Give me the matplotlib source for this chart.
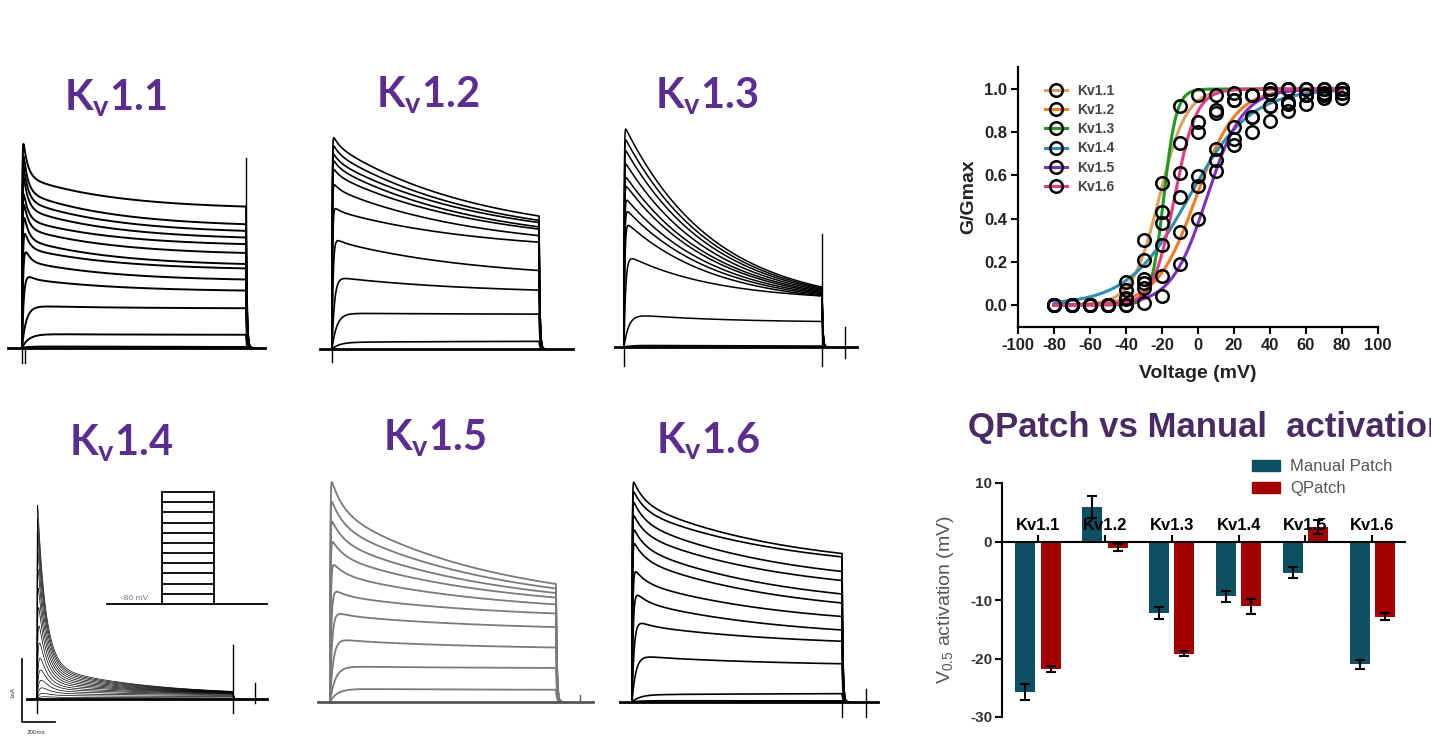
import numpy as np
import matplotlib.pyplot as plt
from matplotlib.lines import Line2D
from matplotlib.patches import Patch

plt.rcParams['font.family'] = ['Liberation Sans', 'DejaVu Sans']
plt.rcParams['axes.unicode_minus'] = False

W, H = 1431, 740
PURPLE = '#5c2d91'

# ---------------- current traces (normalised to the largest peak) ----------------
kv11_peak = [1.0, 0.95, 0.90, 0.85, 0.77, 0.73, 0.68, 0.61, 0.535, 0.41, 0.21, 0.07, 0.012]
kv11_end = [0.64, 0.56, 0.53, 0.50, 0.47, 0.43, 0.38, 0.36, 0.31, 0.26, 0.18, 0.06, 0.005]

kv12_peak = [0.99, 0.95, 0.91, 0.88, 0.84, 0.77, 0.66, 0.52, 0.34, 0.165, 0.03]
kv12_end = [0.61, 0.59, 0.58, 0.56, 0.55, 0.52, 0.49, 0.36, 0.27, 0.16, 0.035]

kv13_peak = [1.0, 0.95, 0.90, 0.84, 0.78, 0.74, 0.68, 0.63, 0.57, 0.42, 0.15, 0.008]
kv13_end = [0.27, 0.265, 0.26, 0.255, 0.25, 0.245, 0.24, 0.235, 0.23, 0.23, 0.115, 0.005]

kv14_peak = [1.0, 0.93, 0.86, 0.78, 0.70, 0.62, 0.54, 0.46, 0.38, 0.30, 0.23, 0.16, 0.10, 0.05, 0.02]
kv14_end = [0.036, 0.035, 0.034, 0.033, 0.032, 0.031, 0.030, 0.029, 0.028, 0.026, 0.024,
            0.021, 0.017, 0.012, 0.006]

kv15_peak = [1.0, 0.91, 0.82, 0.73, 0.63, 0.51, 0.41, 0.29, 0.16, 0.06]
kv15_end = [0.52, 0.50, 0.48, 0.46, 0.43, 0.39, 0.33, 0.24, 0.15, 0.054]

kv16_peak = [1.0, 0.955, 0.91, 0.85, 0.79, 0.73, 0.61, 0.51, 0.38, 0.22, 0.03, 0.006]
kv16_end = [0.66, 0.645, 0.58, 0.54, 0.48, 0.44, 0.38, 0.32, 0.27, 0.17, 0.037, 0.005]

# inactivation kinetics per channel: (fast fraction, tau fast, tau slow) in pulse units
kv_shape = {
    '1.1': (0.6, 0.02, 0.4),
    '1.2': (0.1, 0.03, 0.7),
    '1.3': (0.0, 0.03, 0.45),
    '1.4': (0.85, 0.04, 0.5),
    '1.5': (0.25, 0.05, 0.7),
    '1.6': (0.25, 0.05, 0.7),
}
# activation time constant of the largest trace (pulse units)
kv_act = {'1.1': 0.0015, '1.2': 0.0015, '1.3': 0.0015, '1.4': 0.0008, '1.5': 0.0015, '1.6': 0.0015}

# voltage protocol steps (mV)
hold_mv = -80
step_mv = [-70, -60, -50, -40, -30, -20, -10, 0, 10, 20, 30]

# ---------------- G/Gmax activation curves ----------------
volts = [-80, -70, -60, -50, -40, -30, -20, -10, 0, 10, 20, 30, 40, 50, 60, 70, 80]
channels = ['Kv1.1', 'Kv1.2', 'Kv1.3', 'Kv1.4', 'Kv1.5', 'Kv1.6']
g_kv11 = [0, 0, 0, 0, 0.07, 0.30, 0.565, 0.75, 0.845, 0.89, 0.95, 0.97, 0.98, 1.0, 1.0, 1.0, 1.0]
g_kv12 = [0, 0, 0, 0, 0.03, 0.10, 0.134, 0.337, 0.595, 0.72, 0.825, 0.87, 0.92, 0.94, 0.97, 0.97, 0.98]
g_kv13 = [0, 0, 0, 0, 0.0, 0.08, 0.43, 0.92, 0.97, 0.97, 0.98, 0.97, 1.0, 1.0, 1.0, 1.0, 1.0]
g_kv14 = [0, 0, 0, 0, 0.106, 0.21, 0.38, 0.50, 0.55, 0.67, 0.74, 0.80, 0.85, 0.90, 0.93, 0.96, 0.96]
g_kv15 = [0, 0, 0, 0, 0.0, 0.01, 0.04, 0.19, 0.40, 0.62, 0.77, 0.87, 0.92, 0.93, 0.97, 0.97, 0.98]
g_kv16 = [0, 0, 0, 0, 0.034, 0.12, 0.28, 0.61, 0.80, 0.905, 0.95, 0.97, 0.98, 1.0, 0.97, 0.98, 1.0]
fit_vhalf = [-21.5, -1.0, -19.0, -5.0, 5.0, -13.0]
fit_slope = [7.5, 11.0, 3.5, 17.0, 10.0, 6.0]
fit_colors = ['#d9a25f', '#f47c20', '#1e9a1e', '#2a8fb0', '#7f2fbf', '#e83a84']

# ---------------- V0.5 comparison ----------------
bar_groups = ['Kv1.1', 'Kv1.2', 'Kv1.3', 'Kv1.4', 'Kv1.5', 'Kv1.6']
manual_v05 = [-25.7, 5.9, -12.2, -9.4, -5.3, -21.0]
manual_err = [1.4, 1.8, 1.0, 1.0, 1.0, 0.8]
qpatch_v05 = [-21.8, -1.1, -19.2, -11.1, 2.4, -12.9]
qpatch_err = [0.5, 0.6, 0.4, 1.3, 1.2, 0.6]


fig = plt.figure(figsize=(W / 100, H / 100), dpi=100)


def px_axes(x0, y0, x1, y1):
    # box in pixels, origin top-left
    return fig.add_axes([x0 / W, 1 - y1 / H, (x1 - x0) / W, (y1 - y0) / H])


def draw_traces(ax, peaks, ends, shape, act, color, lw):
    f, tf, ts = shape
    t = np.linspace(0, 1, 3000)
    raw = f * np.exp(-t / tf) + (1 - f) * np.exp(-t / ts)
    d = (raw - raw[-1]) / (raw[0] - raw[-1])
    tail_t = np.linspace(1, 1.03, 60)
    for p, e in zip(peaks, ends):
        # small steps open more slowly
        tau_a = act * (1 + 25 * (1 - p) ** 3)
        m = 1 - np.exp(-t / tau_a)
        cur = m * (e + (p - e) * d)
        tail = cur[-1] * np.exp(-(tail_t - 1) / 0.004)
        ax.plot(np.r_[t, tail_t], np.r_[cur, tail], color=color, lw=lw,
                clip_on=False, solid_joinstyle='round')


# name, peaks, ends, color, lw, pixel box (pulse start, pulse end, baseline, top),
# baseline span, extra vertical marks, title anchor
panels = [
    ('1.1', kv11_peak, kv11_end, 'black', 1.4, (22, 246, 348, 127),
     (-0.0625, 1.085), [(0, -0.07, 0), (0.015, -0.07, 0), (1.0, 0, 0.86)], (115, 110)),
    ('1.2', kv12_peak, kv12_end, 'black', 1.2, (332, 539, 349, 131),
     (-0.058, 1.164), [(0, -0.06, 0)], (428, 107)),
    ('1.3', kv13_peak, kv13_end, 'black', 1.1, (624, 822, 347, 125),
     (-0.045, 1.177), [(0, -0.085, 0), (1.0, -0.085, 0.51), (1.116, -0.05, 0.09)], (707, 108)),
    ('1.4', kv14_peak, kv14_end, 'black', 0.5, (37, 233, 699, 488),
     (-0.051, 1.173), [(0, -0.066, 0.03), (1.0, -0.066, 0.256), (1.112, -0.02, 0.075)], (121, 455)),
    ('1.5', kv15_peak, kv15_end, '#7a7a7a', 1.3, (330, 556, 702, 475),
     (-0.053, 1.164), [(1.106, 0, 0.03)], (435, 450)),
    ('1.6', kv16_peak, kv16_end, 'black', 1.2, (632, 842, 702, 477),
     (-0.057, 1.171), [(1.0, -0.067, 0), (1.114, -0.067, 0.06)], (708, 453)),
]

for name, peaks, ends, color, lw, (xs, xe, yb, yt), span, marks, (tx, ty) in panels:
    ax = px_axes(xs, yt, xe, yb)
    ax.set_xlim(0, 1)
    ax.set_ylim(0, 1)
    ax.axis('off')
    draw_traces(ax, peaks, ends, kv_shape[name], kv_act[name], color, lw)
    base_c = '#555555' if color != 'black' else 'black'
    ax.plot(span, [0, 0], color=base_c, lw=2.0, clip_on=False)
    for (mx, m0, m1) in marks:
        ax.plot([mx, mx], [m0, m1], color=base_c, lw=1.0, clip_on=False)
    fig.text(tx / W, 1 - ty / H, r'K$_\mathregular{v}$' + name, family='Lato',
             weight='bold', fontsize=30, color=PURPLE, ha='center', va='baseline')

# voltage protocol inset for Kv1.4
pax = px_axes(107, 492, 267, 604)
pax.set_xlim(0, 1)
pax.set_ylim(hold_mv, step_mv[-1])
pax.axis('off')
on, off = 0.344, 0.669
pax.plot([0, 1], [hold_mv, hold_mv], color='black', lw=1.3, clip_on=False)
for v in step_mv:
    pax.plot([on, off], [v, v], color='black', lw=1.3, clip_on=False)
for x in (on, off):
    pax.plot([x, x], [hold_mv, step_mv[-1]], color='black', lw=1.3, clip_on=False)
pax.text(0.17, hold_mv + 1.5, '-80 mV', fontsize=6, color='#7a6fa0', ha='center', va='bottom')

# scale bar for Kv1.4
sax = px_axes(0, 0, W, H)
sax.set_xlim(0, W)
sax.set_ylim(H, 0)
sax.axis('off')
sax.plot([22, 22, 55], [659, 722, 722], color='black', lw=1.2)
sax.text(13, 692, '1nA', fontsize=4.5, rotation=90, ha='center', va='center', color='#333333')
sax.text(36, 732, '200ms', fontsize=4.5, ha='center', va='center', color='#333333')

# ---------------- G/Gmax plot ----------------
gax = px_axes(1018, 67.4, 1378, 326.6)
g_sets = [g_kv11, g_kv12, g_kv13, g_kv14, g_kv15, g_kv16]
vv = np.linspace(-80, 80, 400)
handles = []
for g, vh, k, c in zip(g_sets, fit_vhalf, fit_slope, fit_colors):
    gax.plot(vv, 1 / (1 + np.exp((vh - vv) / k)), color=c, lw=2.2, zorder=2)
    gax.plot(volts, g, 'o', mfc='none', mec='black', ms=9, mew=1.8, zorder=3)
    handles.append(Line2D([0], [0], color=c, lw=2.2, marker='o', mfc='none',
                          mec='black', ms=9, mew=1.8))
gax.set_xlim(-100, 100)
gax.set_ylim(-0.1, 1.1)
gax.set_xticks(range(-100, 101, 20))
gax.set_yticks([0, 0.2, 0.4, 0.6, 0.8, 1.0])
gax.set_yticklabels(['0.0', '0.2', '0.4', '0.6', '0.8', '1.0'])
for s in ('top', 'right'):
    gax.spines[s].set_visible(False)
for s in ('left', 'bottom'):
    gax.spines[s].set_linewidth(1.6)
gax.tick_params(width=1.5, length=5, labelsize=12, pad=3, labelcolor='#222222')
for lab in gax.get_xticklabels() + gax.get_yticklabels():
    lab.set_fontweight('bold')
gax.set_xlabel('Voltage (mV)', fontsize=14, fontweight='bold', labelpad=9, color='#222222')
gax.set_ylabel('G/Gmax', fontsize=14, fontweight='bold', labelpad=5, color='#222222')
gax.legend(handles, channels, loc='upper left', bbox_to_anchor=(1045 / W, 1 - 84 / H),
           bbox_transform=fig.transFigure, frameon=False, borderpad=0,
           borderaxespad=0, handlelength=1.6, handletextpad=0.7, labelspacing=0.37,
           prop={'weight': 'bold', 'size': 10}, labelcolor='#444444')

# ---------------- V0.5 bar chart ----------------
bax = px_axes(1002, 483, 1405, 717)
xpos = np.arange(len(bar_groups))
bw = 0.30
bax.bar(xpos - 0.19, manual_v05, bw, color='#0d4f63', zorder=2)
bax.bar(xpos + 0.19, qpatch_v05, bw, color='#a30000', zorder=2)
bax.errorbar(xpos - 0.19, manual_v05, yerr=manual_err, fmt='none', ecolor='black',
             elinewidth=1.5, capsize=3.5, capthick=1.5, zorder=3)
bax.errorbar(xpos + 0.19, qpatch_v05, yerr=qpatch_err, fmt='none', ecolor='black',
             elinewidth=1.5, capsize=3.5, capthick=1.5, zorder=3)
bax.set_xlim(-0.54, 5.49)
bax.set_ylim(-30, 10)
bax.set_yticks([-30, -20, -10, 0, 10])
bax.set_xticks(xpos)
bax.set_xticklabels([])
bax.spines['top'].set_visible(False)
bax.spines['right'].set_visible(False)
bax.spines['bottom'].set_position(('data', 0))
bax.spines['bottom'].set_linewidth(1.5)
bax.spines['left'].set_linewidth(1.5)
bax.tick_params(axis='x', direction='in', length=5, width=1.5)
bax.tick_params(axis='y', length=5, width=1.5, labelsize=11, pad=2, labelcolor='#333333')
for lab in bax.get_yticklabels():
    lab.set_fontweight('bold')
for i, g in enumerate(bar_groups):
    bax.text(i, 2.0, g, ha='center', va='baseline', fontsize=12, fontweight='bold', zorder=4)
bax.set_ylabel(r'V$_\mathregular{0.5}$ activation (mV)', fontsize=14, color='#555555')
bax.yaxis.set_label_coords(-0.115, 0.5)
bax.legend([Patch(color='#0d4f63'), Patch(color='#a30000')], ['Manual Patch', 'QPatch'],
           loc='upper left', bbox_to_anchor=(1252 / W, 1 - 459 / H),
           bbox_transform=fig.transFigure, frameon=False, fontsize=12, borderpad=0,
           borderaxespad=0, handlelength=1.7, handleheight=0.66, handletextpad=0.6,
           labelspacing=0.45, labelcolor='#555555')

fig.text(968 / W, 1 - 437 / H, 'QPatch vs Manual  activation', fontsize=25,
         fontweight='bold', color='#4a2a63', ha='left', va='baseline')

fig.savefig('out.png', dpi=100)
